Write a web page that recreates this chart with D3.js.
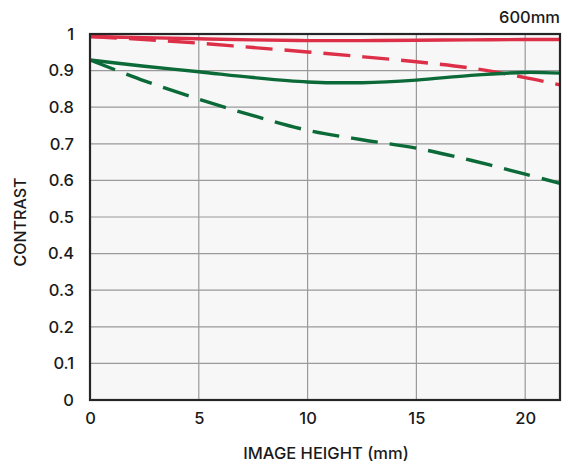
<!DOCTYPE html>
<html><head><meta charset="utf-8">
<script src="https://cdn.jsdelivr.net/npm/d3@7"></script>
<style>body{margin:0;background:#fff;} text{font-family:Inter,"Noto Sans",sans-serif;fill:#1a1a1a;font-weight:500;}</style>
</head><body><svg id="c" width="562" height="464"></svg>
<script>
const xs = [0, 2.5, 5, 7.5, 10, 12.5, 15, 17.5, 20, 21.6];
const redSolid  = [0.993, 0.990, 0.987, 0.984, 0.982, 0.982, 0.983, 0.984, 0.985, 0.985];
const redDash   = [0.993, 0.985, 0.975, 0.963, 0.951, 0.938, 0.924, 0.907, 0.881, 0.861];
const greenSolid= [0.929, 0.912, 0.897, 0.881, 0.869, 0.867, 0.874, 0.887, 0.895, 0.893];
const greenDash = [0.929, 0.872, 0.822, 0.777, 0.737, 0.711, 0.688, 0.655, 0.617, 0.592];
const xTicks = [0, 5, 10, 15, 20];
const yTicks = [0, 0.1, 0.2, 0.3, 0.4, 0.5, 0.6, 0.7, 0.8, 0.9, 1];
const title = "600mm";

const svg = d3.select("#c");
const L = 90, R = 560, T = 34, B = 400;
const x = d3.scaleLinear().domain([0, 21.6]).range([L, R]);
const y = d3.scaleLinear().domain([0, 1]).range([B, T]);

svg.append("rect").attr("x", L).attr("y", T).attr("width", R - L).attr("height", B - T).attr("fill", "#f7f7f7");

// grid
svg.append("g").selectAll("line").data(xTicks.filter(d => d > 0)).join("line")
  .attr("x1", d => x(d)).attr("x2", d => x(d)).attr("y1", T).attr("y2", B)
  .attr("stroke", "#9a9a9a").attr("stroke-width", 1.2);
svg.append("g").selectAll("line").data(yTicks.filter(d => d > 0 && d < 1)).join("line")
  .attr("y1", d => y(d)).attr("y2", d => y(d)).attr("x1", L).attr("x2", R)
  .attr("stroke", "#9a9a9a").attr("stroke-width", 1.2);

// axes via d3
const xAxis = d3.axisBottom(x).tickValues(xTicks).tickSize(0).tickPadding(12).tickFormat(d3.format("d"));
const yAxis = d3.axisLeft(y).tickValues(yTicks).tickSize(0).tickPadding(16).tickFormat(d => d === 0 ? "0" : d === 1 ? "1" : d3.format(".1f")(d));
const gx = svg.append("g").attr("transform", `translate(0,${B})`).call(xAxis);
const gy = svg.append("g").attr("transform", `translate(${L},0)`).call(yAxis);
[gx, gy].forEach(g => { g.select(".domain").remove(); g.selectAll("text").attr("font-size", 16.5).attr("fill", "#1a1a1a").style("font-family", "Inter, 'Noto Sans', sans-serif").style("font-weight", 500); });

// series
const line = d3.line().x((d, i) => x(xs[i])).y(d => y(d)).curve(d3.curveCatmullRom);
const plot = svg.append("g");
const series = [
  {v: redSolid, c: "#de2f48", dash: null},
  {v: redDash, c: "#de2f48", dash: "27,12"},
  {v: greenDash, c: "#0b6a38", dash: "27,12"},
  {v: greenSolid, c: "#0b6a38", dash: null}
];
series.forEach(s => {
  plot.append("path").attr("d", line(s.v)).attr("fill", "none").attr("stroke", s.c)
    .attr("stroke-width", 3.4).attr("stroke-dasharray", s.dash);
});

// frame
svg.append("rect").attr("x", L).attr("y", T).attr("width", R - L).attr("height", B - T)
  .attr("fill", "none").attr("stroke", "#262626").attr("stroke-width", 2.2);

svg.append("text").attr("x", 560).attr("y", 23).attr("text-anchor", "end").attr("font-size", 16.5).text(title);
svg.append("text").attr("x", 326).attr("y", 459).attr("text-anchor", "middle").attr("font-size", 16.5).text("IMAGE HEIGHT (mm)");
svg.append("text").attr("transform", `translate(26,${(T + B) / 2 + 5}) rotate(-90)`).attr("text-anchor", "middle").attr("font-size", 16).text("CONTRAST");
</script></body></html>
